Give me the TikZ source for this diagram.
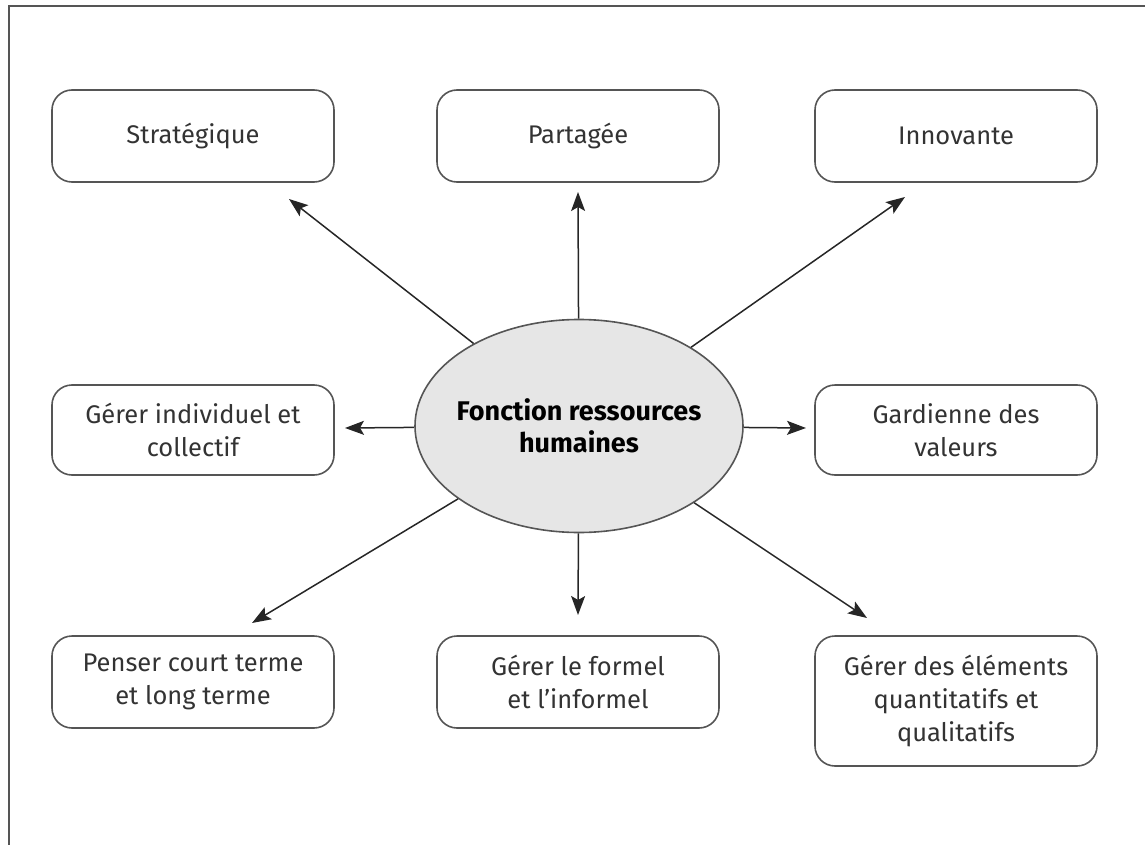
\documentclass[tikz,border=0pt]{standalone}
\usepackage{fontspec}
\setmainfont{Fira Sans}
\usetikzlibrary{arrows.meta,shapes.geometric}
\definecolor{inkgray}{HTML}{333333}
\definecolor{linegray}{HTML}{555555}
\definecolor{hubfill}{HTML}{E6E6E6}
\begin{document}
\begin{tikzpicture}[x=1pt,y=-1pt,
  role/.style={draw=linegray,line width=1.6pt,rounded corners=20pt,
    minimum width=282pt,minimum height=92pt,align=center,text=inkgray,
    font=\fontsize{25.5}{33}\selectfont,inner sep=0pt},
  hub/.style={ellipse,draw=linegray,line width=1.6pt,fill=hubfill,
    minimum width=328pt,minimum height=213pt,align=center,
    font=\bfseries\fontsize{27}{32}\selectfont,text=black,
    inner xsep=-16pt,inner ysep=0pt},
  spoke/.style={draw=black!85,line width=1.5pt,
    -{Stealth[length=19pt,width=14pt,inset=4pt]}}]
\useasboundingbox (0,0) rectangle (1145,845);
% frame
\draw[linegray,line width=2.2pt] (9,850) -- (9,6) -- (1150,6);

% central hub
\node[hub] (c) at (579,426) {Fonction ressources\\humaines};

% surrounding roles
\node[role] (s) at (193,136) {Stratégique};
\node[role] (p) at (578,136) {Partagée};
\node[role] (i) at (956,136) {Innovante};
\node[role,minimum height=90pt] (g) at (193,430) {Gérer individuel et\\collectif};
\node[role,minimum height=90pt] (v) at (956,430) {Gardienne des\\valeurs};
\node[role] (t) at (193,682) {Penser court terme\\et long terme};
\node[role] (f) at (578,682) {Gérer le formel\\et l’informel};
\node[role,minimum height=130pt] (q) at (956,701) {Gérer des éléments\\quantitatifs et\\qualitatifs};

% arrow tips
\coordinate (ts) at (289,199);
\coordinate (tp) at (578,192);
\coordinate (ti) at (905,197);
\coordinate (tg) at (345,428);
\coordinate (tv) at (806,428);
\coordinate (tt) at (252,623);
\coordinate (tf) at (578,615);
\coordinate (tq) at (867,618);

\foreach \e in {ts,tp,ti,tg,tv,tt,tf,tq}
  \draw[spoke] (c) -- (\e);
\end{tikzpicture}
\end{document}
